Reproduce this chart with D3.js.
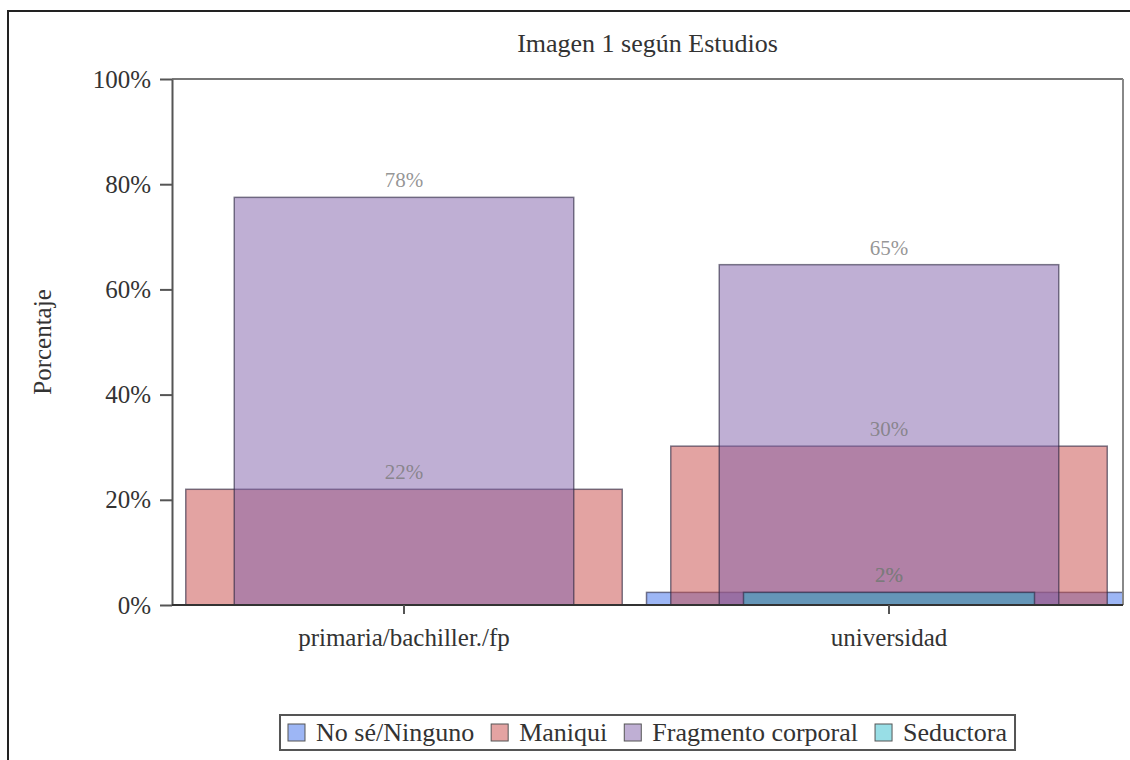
<!DOCTYPE html>
<html>
<head>
<meta charset="utf-8">
<script src="https://cdn.jsdelivr.net/npm/d3@7"></script>
<style>
  html, body { margin: 0; padding: 0; background: #fff; }
  svg { display: block; }
  svg text { font-family: "Liberation Serif", "DejaVu Serif", serif !important; }
</style>
</head>
<body>
<svg id="chart" width="1130" height="760"></svg>
<script>
// ---- data ----
const title = "Imagen 1 según Estudios";
const yLabel = "Porcentaje";
const categories = ["primaria/bachiller./fp", "universidad"];
const seriesNames = ["No sé/Ninguno", "Maniqui", "Fragmento corporal", "Seductora"];
const noSe = [0, 2.4];
const maniqui = [22, 30.2];
const fragmento = [77.5, 64.7];
const seductora = [0, 2.4];
const yTicks = [0, 20, 40, 60, 80, 100];

// ---- styles ----
const FONT = '"Liberation Serif", "DejaVu Serif", serif';
const seriesValues = [noSe, maniqui, fragmento, seductora];
const seriesColors = ["rgb(60,110,235)", "rgb(199,71,69)", "rgb(127,95,169)", "rgb(50,190,205)"];
const seriesWidthFrac = [1.0, 0.9, 0.7, 0.6];
const plot = { left: 172, right: 1123, top: 79, bottom: 605 };

const svg = d3.select("#chart");

// outer frame
svg.append("rect").attr("x", 8).attr("y", 11).attr("width", 1140).attr("height", 770)
  .attr("fill", "#fff").attr("stroke", "#222").attr("stroke-width", 2);

const x = d3.scaleBand().domain(categories).range([161.5, 1131.5]).padding(0);
const y = d3.scaleLinear().domain([0, 100]).range([plot.bottom, plot.top]);

svg.append("defs").append("clipPath").attr("id", "plotclip")
  .append("rect").attr("x", plot.left).attr("y", plot.top)
  .attr("width", plot.right - plot.left).attr("height", plot.bottom - plot.top);

const barsG = svg.append("g").attr("clip-path", "url(#plotclip)");
const step = x.bandwidth();

seriesValues.forEach((vals, si) => {
  const data = categories.map((c, i) => ({ c, v: vals[i] })).filter(d => d.v > 0);
  const w = step * seriesWidthFrac[si];
  barsG.selectAll(null).data(data).enter().append("rect")
    .attr("x", d => x(d.c) + step / 2 - w / 2)
    .attr("y", d => y(d.v))
    .attr("width", w)
    .attr("height", d => y(0) - y(d.v))
    .attr("fill", seriesColors[si])
    .attr("fill-opacity", 0.5)
    .attr("stroke", "#2a2440")
    .attr("stroke-opacity", 0.6)
    .attr("stroke-width", 1.5);
});

// data labels
seriesValues.forEach((vals, si) => {
  const data = categories.map((c, i) => ({ c, v: vals[i] })).filter(d => d.v > 0);
  svg.selectAll(null).data(data).enter().append("text")
    .attr("x", d => x(d.c) + step / 2)
    .attr("y", d => y(d.v) - 10)
    .attr("text-anchor", "middle")
    .style("font-family", FONT)
    .attr("font-size", 21)
    .attr("fill", "#7a7a7a")
    .attr("fill-opacity", 0.8)
    .text(d => Math.round(d.v) + "%");
});

// plot frame (top/right)
svg.append("line").attr("x1", plot.left).attr("x2", plot.right).attr("y1", plot.top).attr("y2", plot.top)
  .attr("stroke", "#777").attr("stroke-width", 2);
svg.append("line").attr("x1", plot.right).attr("x2", plot.right).attr("y1", plot.top).attr("y2", plot.bottom)
  .attr("stroke", "#888").attr("stroke-width", 2);

// y axis
const yAxis = svg.append("g").attr("transform", `translate(${plot.left},0)`)
  .call(d3.axisLeft(y).tickValues(yTicks).tickFormat(d => d + "%").tickSize(12).tickSizeOuter(0).tickPadding(9));
yAxis.attr("font-family", null);
yAxis.select(".domain").attr("stroke", "#555").attr("stroke-width", 2);
yAxis.selectAll(".tick line").attr("stroke", "#555").attr("stroke-width", 2);
yAxis.selectAll(".tick text").attr("font-size", 25).attr("fill", "#333").style("font-family", FONT);

// x axis
const xAxis = svg.append("g").attr("transform", `translate(0,${plot.bottom})`)
  .call(d3.axisBottom(x).tickSize(9).tickSizeOuter(0).tickPadding(14));
xAxis.attr("font-family", null);
xAxis.select(".domain").attr("d", `M${plot.left},0H${plot.right}`).attr("stroke", "#333").attr("stroke-width", 2);
xAxis.selectAll(".tick line").attr("stroke", "#555").attr("stroke-width", 2);
xAxis.selectAll(".tick text").attr("font-size", 25).attr("fill", "#333").style("font-family", FONT);

// title
svg.append("text").attr("x", (plot.left + plot.right) / 2).attr("y", 52)
  .attr("text-anchor", "middle").attr("font-size", 26).attr("fill", "#333")
  .style("font-family", FONT).text(title);

// y label
svg.append("text").attr("transform", `translate(51,${(plot.top + plot.bottom) / 2}) rotate(-90)`)
  .attr("text-anchor", "middle").attr("font-size", 25).attr("fill", "#333")
  .style("font-family", FONT).text(yLabel);

// legend
const legBox = svg.append("rect");
const legG = svg.append("g");
const items = legG.selectAll(null).data(seriesNames).enter().append("g");
items.append("rect").attr("width", 17).attr("height", 17).attr("y", -17)
  .attr("fill", (d, i) => seriesColors[i]).attr("fill-opacity", 0.5)
  .attr("stroke", "#555").attr("stroke-width", 1);
items.append("text").attr("x", 28).attr("y", 0).attr("font-size", 26).attr("fill", "#333")
  .style("font-family", FONT).text(d => d);
let cx = 0;
items.each(function () {
  const g = d3.select(this);
  g.attr("transform", `translate(${cx},0)`);
  const tw = g.select("text").node().getComputedTextLength();
  cx += 28 + tw + 17;
});
const legW = cx - 17;
const legX = (plot.left + plot.right) / 2 - legW / 2;
legG.attr("transform", `translate(${legX},741)`);
legBox.attr("x", legX - 8).attr("y", 715).attr("width", legW + 16).attr("height", 35)
  .attr("fill", "none").attr("stroke", "#555").attr("stroke-width", 2);
</script>
</body>
</html>
